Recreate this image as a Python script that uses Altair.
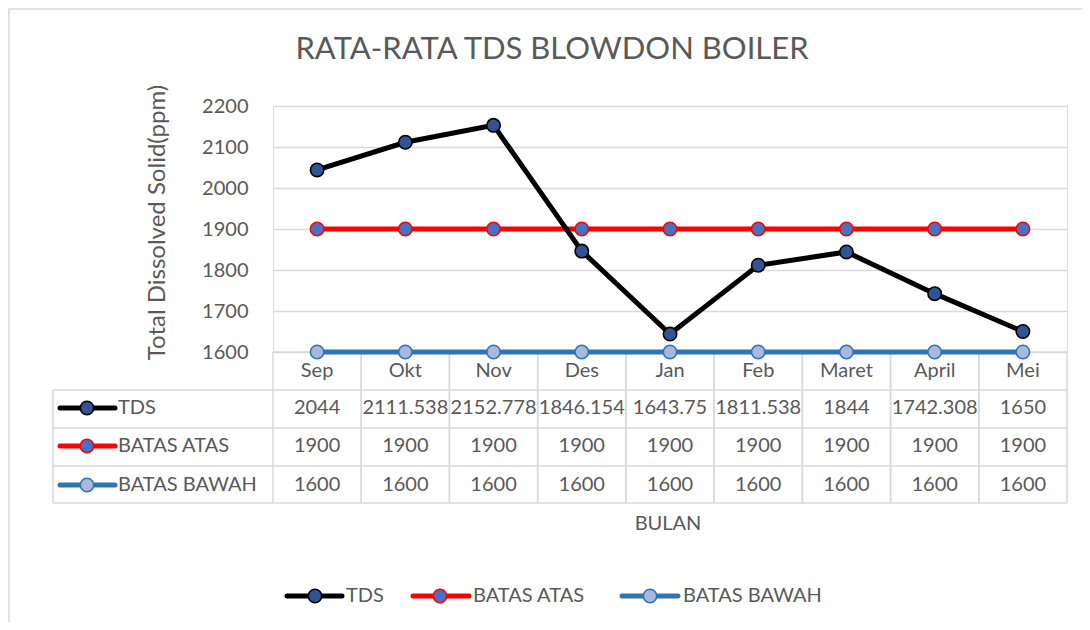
import altair as alt
import pandas as pd

# ---------------- data ----------------
months = ["Sep", "Okt", "Nov", "Des", "Jan", "Feb", "Maret", "April", "Mei"]
tds = [2044, 2111.538, 2152.778, 1846.154, 1643.75, 1811.538, 1844, 1742.308, 1650]
batas_atas = [1900, 1900, 1900, 1900, 1900, 1900, 1900, 1900, 1900]
batas_bawah = [1600, 1600, 1600, 1600, 1600, 1600, 1600, 1600, 1600]
series_names = ["TDS", "BATAS ATAS", "BATAS BAWAH"]
line_colors = ["#000000", "#ff0000", "#2e75b6"]
marker_fills = ["#2f5597", "#4472c4", "#a9b8dc"]
y_ticks = [1600, 1700, 1800, 1900, 2000, 2100, 2200]
chart_title = "RATA-RATA TDS BLOWDON BOILER"
y_title = "Total Dissolved Solid(ppm)"
x_title = "BULAN"

# ---------------- layout (pixels, relative to plot area) ----------------
W, H = 794, 246
FONT = "Lato"
TXT = "#595959"
GRID = "#d9d9d9"
FS = 20
row_y = [302, 340, 379]
row_lines = [284, 322, 360, 397]
table_left = -220
legend_y = 490
legend_x = [(14, 69, 42, 73), (140, 196, 167, 200), (349, 405, 377, 410)]
MSIZE = 180


def fmt(v):
    s = ("%.3f" % v).rstrip("0").rstrip(".")
    return s


rows = []
for name, vals in zip(series_names, [tds, batas_atas, batas_bawah]):
    for m, v in zip(months, vals):
        rows.append({"month": m, "series": name, "value": v, "label": fmt(v)})
df = pd.DataFrame(rows)
one = pd.DataFrame({"k": [0]})
mdf = pd.DataFrame({"month": months})

xs = alt.Scale(type="band", domain=months, paddingInner=0, paddingOuter=0)
ys = alt.Scale(domain=[1600, 2200], nice=False, zero=False)
stroke_scale = alt.Scale(domain=series_names, range=line_colors)
fill_scale = alt.Scale(domain=series_names, range=marker_fills)

y_axis = alt.Axis(
    values=y_ticks,
    format="d",
    title=y_title,
    grid=True,
    gridColor=GRID,
    gridWidth=1.3,
    domain=False,
    ticks=False,
    labelPadding=25,
    labelFont=FONT,
    labelFontSize=FS,
    labelColor=TXT,
    titleFont=FONT,
    titleFontSize=24,
    titleColor=TXT,
    titleFontWeight="normal",
    titleX=-116,
    titleY=116,
    titleAngle=270,
    titleAlign="center",
    titleBaseline="middle",
)


def X(bp=0.5):
    return alt.X("month:N", scale=xs, axis=None, bandPosition=bp)


def Y():
    return alt.Y("value:Q", scale=ys, axis=y_axis)


layers = []

# border of chart area
layers.append(
    alt.Chart(one).mark_rect(fill=None, stroke=GRID, strokeWidth=1.5).encode(
        x=alt.value(-264), x2=alt.value(W + 40), y=alt.value(-97), y2=alt.value(H + 400)
    )
)

# axis + gridlines carrier (invisible)
layers.append(alt.Chart(df).mark_point(opacity=0).encode(x=X(), y=Y()))

# table grid
for yy in row_lines:
    layers.append(
        alt.Chart(one).mark_rule(color=GRID, strokeWidth=1.5).encode(
            x=alt.value(table_left), x2=alt.value(W), y=alt.value(yy)
        )
    )
layers.append(
    alt.Chart(one).mark_rule(color=GRID, strokeWidth=1.5).encode(
        x=alt.value(0), x2=alt.value(W), y=alt.value(H)
    )
)
layers.append(
    alt.Chart(one).mark_rule(color=GRID, strokeWidth=1.5).encode(
        x=alt.value(table_left), y=alt.value(row_lines[0]), y2=alt.value(row_lines[-1])
    )
)
for bp in (0, 1):
    layers.append(
        alt.Chart(mdf).mark_rule(color=GRID, strokeWidth=1.5).encode(
            x=X(bp), y=alt.value(H), y2=alt.value(row_lines[-1])
        )
    )

# lines (drawn bottom series first, TDS on top)
for name in reversed(series_names):
    layers.append(
        alt.Chart(df).transform_filter(alt.datum.series == name).mark_line(strokeWidth=5).encode(
            x=X(), y=Y(),
            stroke=alt.Stroke("series:N", scale=stroke_scale, legend=None),
        )
    )
for name in reversed(series_names):
    layers.append(
        alt.Chart(df).transform_filter(alt.datum.series == name).mark_point(
            shape="circle", filled=True, size=MSIZE, strokeWidth=1.6, opacity=1
        ).encode(
            x=X(), y=Y(),
            fill=alt.Fill("series:N", scale=fill_scale, legend=None),
            stroke=alt.Stroke("series:N", scale=stroke_scale, legend=None),
        )
    )

# table header (month labels)
layers.append(
    alt.Chart(mdf).mark_text(font=FONT, fontSize=FS, color=TXT, baseline="middle").encode(
        x=X(), y=alt.value(265), text="month:N"
    )
)

# table cells + row labels with symbols + bottom legend
for i, name in enumerate(series_names):
    ry = row_y[i]
    layers.append(
        alt.Chart(df).transform_filter(alt.datum.series == name).mark_text(
            font=FONT, fontSize=FS, color=TXT, baseline="middle"
        ).encode(x=X(), y=alt.value(ry), text="label:N")
    )
    sdf = pd.DataFrame({"series": [name]})
    for (x1, x2, xc, xt, yy) in [(-213, -158, -186, -155, ry)] + [tuple(legend_x[i]) + (legend_y,)]:
        layers.append(
            alt.Chart(sdf).mark_rule(strokeWidth=5, strokeCap="round").encode(
                x=alt.value(x1), x2=alt.value(x2), y=alt.value(yy),
                stroke=alt.Stroke("series:N", scale=stroke_scale, legend=None),
            )
        )
        layers.append(
            alt.Chart(sdf).mark_point(shape="circle", filled=True, size=MSIZE, strokeWidth=1.6, opacity=1).encode(
                x=alt.value(xc), y=alt.value(yy),
                fill=alt.Fill("series:N", scale=fill_scale, legend=None),
                stroke=alt.Stroke("series:N", scale=stroke_scale, legend=None),
            )
        )
        layers.append(
            alt.Chart(sdf).mark_text(font=FONT, fontSize=FS, color=TXT, align="left", baseline="middle").encode(
                x=alt.value(xt), y=alt.value(yy), text="series:N"
            )
        )

# x title
layers.append(
    alt.Chart(pd.DataFrame({"t": [x_title]})).mark_text(font=FONT, fontSize=FS, color=TXT, baseline="middle").encode(
        x=alt.value(395), y=alt.value(418), text="t:N"
    )
)
# chart title
layers.append(
    alt.Chart(pd.DataFrame({"t": [chart_title]})).mark_text(font=FONT, fontSize=31, color=TXT, baseline="middle").encode(
        x=alt.value(279), y=alt.value(-56), text="t:N"
    )
)

chart = (
    alt.layer(*layers)
    .properties(
        width=W,
        height=H,
        autosize=alt.AutoSizeParams(type="none"),
        padding={"left": 265, "top": 98, "right": 15, "bottom": 270},
    )
    .configure_view(strokeWidth=0, stroke="transparent")
    .configure(background="white")
)

chart.save("out.html", embed_options={"renderer": "svg", "actions": False})
